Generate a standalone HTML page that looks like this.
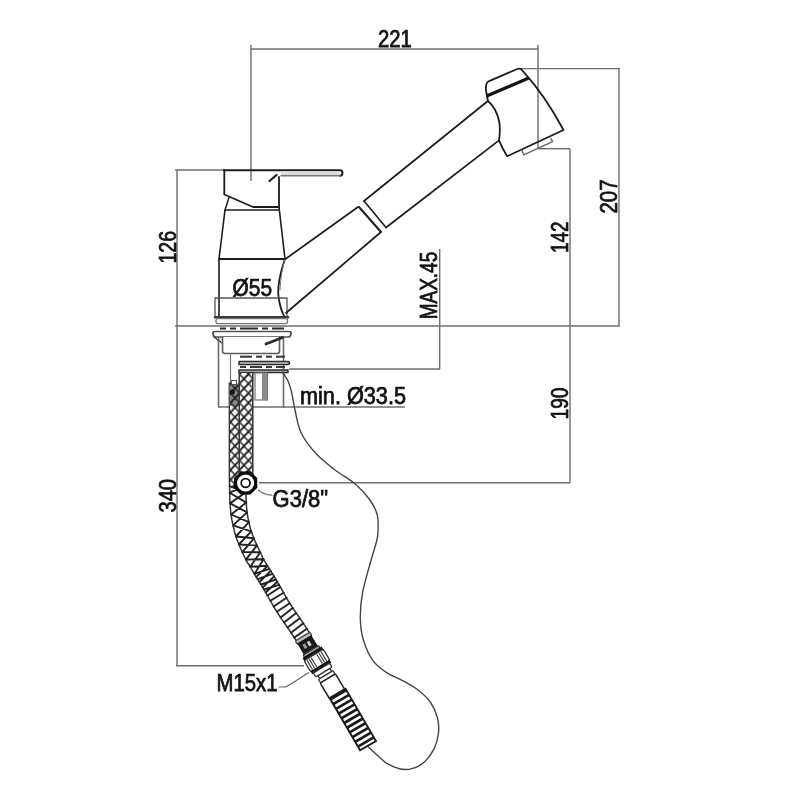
<!DOCTYPE html>
<html><head><meta charset="utf-8"><title>Faucet technical drawing</title>
<style>
html,body{margin:0;padding:0;background:#fff;}
body{width:800px;height:800px;overflow:hidden;}
svg{display:block;filter:blur(0.7px);}
text{font-family:"Liberation Sans",sans-serif;fill:#111;stroke:#111;stroke-width:0.75px;}
</style></head><body>
<svg width="800" height="800" viewBox="0 0 800 800">
<defs><pattern id="xh" x="230.5" y="374" width="9" height="9.6" patternUnits="userSpaceOnUse"><path d="M-1,10.67 L10,-1.07" stroke="#1c1c1c" stroke-width="1.9" fill="none"/><path d="M-1,-1.07 L10,10.67" stroke="#1c1c1c" stroke-width="1.45" fill="none"/></pattern></defs>
<rect width="800" height="800" fill="#fff"/>
<line x1="251" y1="45" x2="251" y2="181" stroke="#6e6e6e" stroke-width="1.4" />
<line x1="251" y1="49" x2="538" y2="49" stroke="#6e6e6e" stroke-width="1.4" />
<line x1="538" y1="45" x2="538" y2="148.5" stroke="#6e6e6e" stroke-width="1.4" />
<line x1="519" y1="68.6" x2="620" y2="68.6" stroke="#6e6e6e" stroke-width="1.4" />
<line x1="619" y1="68.6" x2="619" y2="326" stroke="#6e6e6e" stroke-width="1.4" />
<line x1="538" y1="148.7" x2="570" y2="148.7" stroke="#6e6e6e" stroke-width="1.4" />
<line x1="570" y1="148.7" x2="570" y2="483" stroke="#6e6e6e" stroke-width="1.4" />
<line x1="259" y1="482.7" x2="570" y2="482.7" stroke="#6e6e6e" stroke-width="1.4" />
<line x1="175" y1="326" x2="620" y2="326" stroke="#6e6e6e" stroke-width="1.4" />
<line x1="177" y1="170" x2="177" y2="666" stroke="#6e6e6e" stroke-width="1.4" />
<line x1="175" y1="170" x2="224" y2="170" stroke="#6e6e6e" stroke-width="1.4" />
<line x1="176" y1="665.8" x2="304" y2="665.8" stroke="#6e6e6e" stroke-width="1.4" />
<line x1="439.7" y1="249" x2="439.7" y2="369" stroke="#6e6e6e" stroke-width="1.4" />
<line x1="289" y1="369" x2="440" y2="369" stroke="#6e6e6e" stroke-width="1.4" />
<line x1="218" y1="407" x2="405" y2="407" stroke="#6e6e6e" stroke-width="1.4" />
<text x="378.0" y="46.5" font-size="23" text-anchor="start" font-weight="normal" textLength="33.8" lengthAdjust="spacingAndGlyphs">221</text>
<text x="617.4" y="213.5" font-size="23" text-anchor="start" font-weight="normal" textLength="34.0" lengthAdjust="spacingAndGlyphs" transform="rotate(-90 617.4 213.5)">207</text>
<text x="568.4" y="253" font-size="23" text-anchor="start" font-weight="normal" textLength="31.5" lengthAdjust="spacingAndGlyphs" transform="rotate(-90 568.4 253)">142</text>
<text x="568.4" y="419.5" font-size="23" text-anchor="start" font-weight="normal" textLength="32" lengthAdjust="spacingAndGlyphs" transform="rotate(-90 568.4 419.5)">190</text>
<text x="175.8" y="263.5" font-size="23" text-anchor="start" font-weight="normal" textLength="32.5" lengthAdjust="spacingAndGlyphs" transform="rotate(-90 175.8 263.5)">126</text>
<text x="175.8" y="512.5" font-size="23" text-anchor="start" font-weight="normal" textLength="33.5" lengthAdjust="spacingAndGlyphs" transform="rotate(-90 175.8 512.5)">340</text>
<text x="437.4" y="319.3" font-size="23" text-anchor="start" font-weight="normal" textLength="67.5" lengthAdjust="spacingAndGlyphs" transform="rotate(-90 437.4 319.3)">MAX.45</text>
<text x="232.6" y="295.8" font-size="23" text-anchor="start" font-weight="normal" textLength="39.5" lengthAdjust="spacingAndGlyphs">&#216;55</text>
<text x="300" y="404.4" font-size="23" text-anchor="start" font-weight="normal" textLength="106" lengthAdjust="spacingAndGlyphs">min. &#216;33.5</text>
<text x="272.6" y="507.3" font-size="23" text-anchor="start" font-weight="normal" textLength="55.5" lengthAdjust="spacingAndGlyphs">G3/8"</text>
<text x="216.5" y="691.2" font-size="23" text-anchor="start" font-weight="normal" textLength="61" lengthAdjust="spacingAndGlyphs">M15x1</text>
<path d="M224,170.3 L340,170.3 Q342.5,170.5 342.5,173 Q342.5,175.8 340,175.8" stroke="#1c1c1c" stroke-width="2.0" fill="none" stroke-linejoin="round" stroke-linecap="round" />
<path d="M340,175.8 L281,175.8" stroke="#777" stroke-width="1.5" fill="none" stroke-linejoin="round" stroke-linecap="round" />
<rect x="281" y="171.5" width="59" height="3.5" fill="#ddd"/>
<path d="M269.5,181 L276.5,175" stroke="#1c1c1c" stroke-width="2.2" fill="none" stroke-linejoin="round" stroke-linecap="round" />
<path d="M224.3,170 L224.3,194.5 L253,207 L279,207 L279,177" stroke="#1c1c1c" stroke-width="1.8" fill="none" stroke-linejoin="round" stroke-linecap="round" />
<path d="M229,197.5 L225,210 L279,210" stroke="#1c1c1c" stroke-width="1.5" fill="none" stroke-linejoin="round" stroke-linecap="round" />
<path d="M225,210 L219,259 M279,207 L285,259" stroke="#1c1c1c" stroke-width="1.6" fill="none" stroke-linejoin="round" stroke-linecap="round" />
<path d="M219,259 L285,259" stroke="#1c1c1c" stroke-width="1.8" fill="none" stroke-linejoin="round" stroke-linecap="round" />
<path d="M219,259 L219,316" stroke="#1c1c1c" stroke-width="1.6" fill="none" stroke-linejoin="round" stroke-linecap="round" />
<path d="M285,259 Q276,285 279,300 Q281,312 286,319" stroke="#1c1c1c" stroke-width="1.8" fill="none" stroke-linejoin="round" stroke-linecap="round" />
<path d="M285,259 Q281,272 280,290" stroke="#777" stroke-width="1.0" fill="none" stroke-linejoin="round" stroke-linecap="round" />
<path d="M215,298 L287,298 L287,317 M215,298 L215,317" stroke="#555" stroke-width="1.3" fill="none" stroke-linejoin="round" stroke-linecap="round" />
<path d="M215,317.3 L288,317.3" stroke="#3a3a3a" stroke-width="2.4" fill="none" stroke-linejoin="round" stroke-linecap="round" />
<rect x="216" y="318.6" width="71.5" height="5" rx="2" fill="#fff" stroke="#777" stroke-width="1.4"/>
<path d="M285.5,259 L358,207 M286,313 L381,232" stroke="#1c1c1c" stroke-width="1.7" fill="none" stroke-linejoin="round" stroke-linecap="round" />
<path d="M359,207 L381,232" stroke="#1c1c1c" stroke-width="2.0" fill="none" stroke-linejoin="round" stroke-linecap="round" />
<path d="M364,201 L386,227.5" stroke="#1c1c1c" stroke-width="1.6" fill="none" stroke-linejoin="round" stroke-linecap="round" />
<path d="M364,201 L487.9,101 M386,227.5 L499,140.3" stroke="#1c1c1c" stroke-width="1.7" fill="none" stroke-linejoin="round" stroke-linecap="round" />
<path d="M488.6,81.3 L517.3,69 Q520,68 521.8,69.8 Q545,95 563.5,130 L507.2,156.2 Q502.5,149 499,140.3 Q500.5,131 499.3,122 Q496.5,108 487.9,101 L485.9,90 Q485.5,83 488.6,81.3 Z" stroke="#1c1c1c" stroke-width="1.8" fill="none" stroke-linejoin="round" stroke-linecap="round" />
<path d="M487.9,95.6 L527.6,78.5" stroke="#111" stroke-width="3.3" fill="none" stroke-linejoin="round" stroke-linecap="round" />
<path d="M521.6,150 L523.8,154.8 L552.5,141.6 L551,138.5" stroke="#666" stroke-width="1.4" fill="none" stroke-linejoin="round" stroke-linecap="round" />
<path d="M218.5,338 L218.5,407 M283.5,338 L283.5,407" stroke="#6a6a6a" stroke-width="1.6" fill="none" stroke-linejoin="round" stroke-linecap="round" />
<line x1="220" y1="328.5" x2="226" y2="328.5" stroke="#2a2a2a" stroke-width="2.0" />
<line x1="230" y1="328.5" x2="236" y2="328.5" stroke="#2a2a2a" stroke-width="2.0" />
<line x1="240" y1="328.5" x2="258" y2="328.5" stroke="#2a2a2a" stroke-width="2.0" />
<line x1="262" y1="328.5" x2="268" y2="328.5" stroke="#2a2a2a" stroke-width="2.0" />
<line x1="272" y1="328.5" x2="284" y2="328.5" stroke="#2a2a2a" stroke-width="2.0" />
<path d="M215,331.5 L289,331.5 Q291.5,331.5 291,334 Q290.5,337 288,337 L216,337 Q213.5,337 213,334 Q212.5,331.5 215,331.5 Z" stroke="#505050" stroke-width="1.7" fill="#fff" stroke-linejoin="round" stroke-linecap="round" />
<path d="M214,337 L222,343" stroke="#444" stroke-width="1.5" fill="none" stroke-linejoin="round" stroke-linecap="round" />
<path d="M222.5,337 L222.5,351 Q222.5,353.5 225,353.5 L277,353.5 Q279.5,353.5 279.5,351 L279.5,337" stroke="#5a5a5a" stroke-width="1.6" fill="#fff" stroke-linejoin="round" stroke-linecap="round" />
<path d="M266,344 L282.5,337.5" stroke="#2a2a2a" stroke-width="2.8" fill="none" stroke-linejoin="round" stroke-linecap="round" />
<line x1="230.5" y1="354" x2="230.5" y2="384" stroke="#777" stroke-width="1.2" />
<line x1="240" y1="356.7" x2="252" y2="356.7" stroke="#333" stroke-width="2.0" />
<line x1="256" y1="356.7" x2="262" y2="356.7" stroke="#333" stroke-width="2.0" />
<line x1="266" y1="356.7" x2="272" y2="356.7" stroke="#333" stroke-width="2.0" />
<line x1="276" y1="356.7" x2="285" y2="356.7" stroke="#333" stroke-width="2.0" />
<path d="M239,361.5 L287,361.5 Q289.5,361.5 289.5,363 Q289.5,364.5 287,364.5 L239,364.5 Z" stroke="#2a2a2a" stroke-width="1.5" fill="#ccc" stroke-linejoin="round" stroke-linecap="round" />
<line x1="240" y1="367" x2="246" y2="367" stroke="#333" stroke-width="1.9" />
<line x1="250" y1="367" x2="262" y2="367" stroke="#333" stroke-width="1.9" />
<line x1="266" y1="367" x2="272" y2="367" stroke="#333" stroke-width="1.9" />
<line x1="276" y1="367" x2="285" y2="367" stroke="#333" stroke-width="1.9" />
<path d="M239,370 L288,370 L288,372.5 L239,372.5 Z" stroke="#2a2a2a" stroke-width="1.5" fill="#ccc" stroke-linejoin="round" stroke-linecap="round" />
<rect x="255" y="373" width="12.5" height="27" fill="#fff" stroke="#777" stroke-width="1.2"/>
<rect x="262" y="373" width="5" height="27" fill="#8c8c8c"/>
<path d="M282.5,372.0 C283.4,373.5 286.5,377.7 288.0,381.0 C289.5,384.3 290.3,387.2 291.5,392.0 C292.7,396.8 293.4,403.2 295.0,410.0 C296.6,416.8 297.7,425.4 301.0,432.5 C304.3,439.6 309.3,446.2 315.0,452.5 C320.7,458.8 328.3,464.8 335.0,470.0 C341.7,475.2 349.2,478.8 355.0,483.8 C360.8,488.8 366.3,494.8 370.0,500.0 C373.7,505.2 376.0,510.0 377.3,515.0 C378.6,520.0 378.1,525.8 378.0,530.0 C377.9,534.2 378.3,534.2 376.9,540.0 C375.5,545.8 372.1,556.2 369.7,565.0 C367.3,573.8 364.1,584.2 362.5,593.0 C360.9,601.8 360.2,610.2 360.3,618.0 C360.4,625.8 361.3,633.0 363.4,640.0 C365.5,647.0 368.9,654.8 372.8,660.3 C376.7,665.8 381.9,669.4 386.9,672.8 C391.8,676.2 397.3,677.7 402.5,680.6 C407.7,683.5 413.3,686.4 418.0,690.0 C422.7,693.6 427.4,697.8 430.6,702.5 C433.9,707.2 436.2,712.8 437.5,718.0 C438.8,723.2 439.0,728.5 438.4,733.8 C437.8,739.0 436.1,744.7 433.8,749.4 C431.4,754.1 428.0,758.7 424.4,761.9 C420.8,765.1 416.1,767.5 411.9,768.6 C407.7,769.8 403.6,769.7 399.4,768.8 C395.2,767.9 390.6,765.7 386.9,763.4 C383.2,761.1 380.1,757.7 377.0,755.0 C373.9,752.3 369.9,748.3 368.5,747.0" stroke="#444" stroke-width="1.4" fill="none" stroke-linejoin="round" stroke-linecap="round" />
<path d="M245.6,383.0 L245.6,383.5 L245.6,384.0 L245.6,384.5 L245.6,385.0 L245.6,385.5 L245.6,386.0 L245.6,386.5 L245.6,387.0 L245.6,387.5 L245.6,388.0 L245.6,388.5 L245.6,389.0 L245.6,389.5 L245.6,390.0 L245.6,390.5 L245.6,391.0 L245.6,391.5 L245.6,392.0 L245.6,392.5 L245.6,393.0 L245.6,393.5 L245.6,394.0 L245.6,394.5 L245.6,395.0 L245.6,395.5 L245.6,396.0 L245.6,396.5 L245.6,397.0 L245.6,397.5 L245.6,398.0 L245.6,398.5 L245.6,399.0 L245.6,399.5 L245.6,400.0 L245.6,400.5 L245.6,401.0 L245.6,401.5 L245.6,402.0 L245.6,402.5 L245.6,403.0 L245.6,403.5 L245.6,404.0 L245.6,404.5 L245.6,405.0 L245.6,405.5 L245.6,406.0 L245.6,406.5 L245.6,407.0 L245.6,407.5 L245.6,408.0 L245.6,408.5 L245.6,409.0 L245.6,409.5 L245.6,410.0 L245.6,410.5 L245.6,411.0 L245.6,411.5 L245.6,412.0 L245.6,412.5 L245.6,413.0 L245.6,413.5 L245.6,414.0 L245.6,414.5 L245.6,415.0 L245.6,415.5 L245.6,416.0 L245.6,416.5 L245.6,417.0 L245.6,417.5 L245.6,418.0 L245.6,418.5 L245.6,419.0 L245.6,419.5 L245.6,420.0 L245.6,420.5 L245.6,421.0 L245.6,421.5 L245.6,422.0 L245.6,422.5 L245.6,423.0 L245.6,423.5 L245.6,424.0 L245.6,424.5 L245.6,425.0 L245.6,425.5 L245.6,426.0 L245.6,426.5 L245.6,427.0 L245.6,427.5 L245.6,428.0 L245.6,428.5 L245.6,429.0 L245.6,429.5 L245.6,430.0 L245.6,430.5 L245.6,431.0 L245.6,431.5 L245.6,432.0 L245.6,432.5 L245.6,433.0 L245.6,433.5 L245.6,434.0 L245.6,434.5 L245.6,435.0 L245.6,435.5 L245.6,436.0 L245.6,436.5 L245.6,437.0 L245.6,437.5 L245.6,438.0 L245.6,438.5 L245.6,439.0 L245.6,439.5 L245.6,440.0 L245.6,440.5 L245.6,441.0 L245.6,441.5 L245.6,442.0 L245.6,442.5 L245.6,443.0 L245.6,443.5 L245.6,444.0 L245.6,444.5 L245.6,445.0 L245.6,445.5 L245.6,446.0 L245.6,446.5 L245.6,447.0 L245.6,447.5 L245.6,448.0 L245.6,448.5 L245.6,449.0 L245.6,449.5 L245.6,450.0 L245.6,450.5 L245.6,451.0 L245.6,451.5 L245.6,452.0 L245.6,452.5 L245.6,453.0 L245.6,453.5 L245.6,454.0 L245.6,454.5 L245.6,455.0 L245.6,455.5 L245.6,456.0 L245.6,456.5 L245.6,457.0 L245.6,457.5 L245.6,458.0 L245.6,458.5 L245.6,459.0 L245.6,459.5 L245.6,460.0 L245.6,460.5 L245.6,461.0 L245.6,461.5 L245.6,462.0 L245.6,462.5 L245.6,463.0 L245.6,463.5 L245.6,464.0 L245.6,464.5 L245.6,465.0 L245.6,465.5 L245.6,466.0 L245.6,466.5 L245.6,467.0 L245.6,467.5 L245.6,468.0 L245.6,468.5 L245.6,469.0 L245.6,469.5 L245.6,470.0 L245.6,470.5 L245.6,471.0 L245.6,471.5 L245.6,472.0 L245.6,472.5 L245.6,473.0 L245.6,473.5 L245.6,474.0 L245.6,474.5 L245.6,475.0 L245.6,475.4 L245.6,475.9 L245.6,476.4 L245.6,476.9 L245.6,477.4 L245.6,477.9 L245.6,478.4 L245.7,478.9 L245.7,479.4 L245.7,479.9 L245.7,480.4 L245.7,480.9 L245.7,481.4 L245.7,481.9 L245.7,482.4 L245.7,482.9 L245.7,483.4 L245.7,483.9 L245.7,484.4 L245.8,484.9 L245.8,485.4 L245.8,485.9 L245.8,486.4 L245.8,486.8 L245.8,487.3 L245.8,487.8 L245.8,488.3 L245.8,488.8 L245.8,489.3 L245.8,489.8 L245.9,490.3 L245.9,490.8 L245.9,491.3 L245.9,491.8 L245.9,492.3 L245.9,492.8 L245.9,493.3 L245.9,493.8 L245.9,494.3 L246.0,494.8 L246.0,495.3 L246.0,495.8 L246.0,496.2 L246.0,496.7 L246.0,497.2 L246.1,497.7 L246.1,498.2 L246.1,498.7 L246.1,499.2 L246.1,499.7 L246.1,500.1 L246.2,500.6 L246.2,501.1 L246.2,501.6 L246.2,502.1 L246.3,502.6 L246.3,503.0 L246.3,503.5 L246.3,504.0 L246.4,504.5 L246.4,504.9 L246.4,505.4 L246.5,505.9 L246.5,506.4 L246.6,506.8 L246.6,507.3 L246.6,507.8 L246.7,508.3 L246.7,508.8 L246.8,509.2 L246.8,509.7 L246.9,510.1 L246.9,510.6 L246.9,511.0 L247.0,511.5 L247.1,511.9 L247.1,512.4 L247.2,512.8 L247.2,513.3 L247.3,513.7 L247.4,514.2 L247.4,514.6 L247.5,515.1 L247.6,515.5 L247.7,516.0 L247.8,516.4 L247.8,516.9 L247.9,517.4 L248.0,517.8 L248.1,518.3 L248.2,518.8 L248.3,519.3 L248.4,519.7 L248.5,520.2 L248.6,520.7 L248.7,521.2 L248.8,521.7 L248.9,522.1 L249.0,522.6 L249.1,523.1 L249.2,523.5 L249.3,524.0 L249.4,524.4 L249.5,524.9 L249.6,525.3 L249.7,525.8 L249.8,526.2 L249.9,526.6 L250.0,527.1 L250.2,527.5 L250.3,528.0 L250.4,528.4 L250.5,528.8 L250.6,529.2 L250.8,529.7 L250.9,530.1 L251.0,530.5 L251.2,531.0 L251.3,531.4 L251.5,531.8 L251.6,532.3 L251.7,532.7 L251.9,533.1 L252.1,533.5 L252.2,533.9 L252.4,534.4 L252.5,534.8 L252.7,535.3 L252.9,535.7 L253.0,536.1 L253.2,536.6 L253.4,537.0 L253.6,537.4 L253.8,537.9 L253.9,538.3 L254.1,538.8 L254.3,539.2 L254.5,539.6 L254.7,540.1 L254.9,540.5 L255.0,541.0 L255.2,541.4 L255.4,541.9 L255.6,542.3 L255.8,542.7 L256.0,543.2 L256.2,543.6 L256.4,544.0 L256.6,544.5 L256.8,544.9 L257.0,545.4 L257.2,545.8 L257.4,546.2 L257.6,546.7 L257.8,547.1 L258.0,547.6 L258.2,548.0 L258.4,548.4 L258.6,548.9 L258.8,549.3 L259.1,549.7 L259.3,550.1 L259.5,550.6 L259.7,551.0 L259.9,551.5 L260.1,551.9 L260.3,552.3 L260.6,552.7 L260.8,553.2 L261.0,553.6 L261.2,554.0 L261.4,554.5 L261.6,554.9 L261.9,555.3 L262.1,555.7 L262.0,556.3 L262.2,556.7 L262.4,557.1 L262.6,557.6 L262.9,558.0 L263.1,558.4 L263.3,558.8 L263.6,559.2 L263.8,559.6 L264.0,560.0 L264.3,560.4 L264.5,560.9 L264.8,561.3 L265.0,561.7 L265.2,562.1 L265.5,562.5 L265.7,562.9 L266.0,563.3 L266.2,563.8 L266.5,564.2 L266.7,564.6 L267.0,565.0 L267.3,565.4 L267.5,565.8 L267.8,566.3 L268.0,566.7 L268.3,567.1 L268.5,567.5 L268.8,567.9 L269.1,568.4 L269.3,568.8 L269.6,569.2 L269.9,569.6 L270.1,570.0 L270.4,570.5 L270.7,570.9 L270.9,571.3 L271.2,571.7 L271.5,572.2 L271.7,572.6 L272.0,573.0 L272.3,573.4 L272.5,573.9 L272.8,574.3 L273.1,574.7 L273.3,575.2 L273.6,575.6 L273.9,576.0 L274.1,576.4 L274.4,576.9 L274.7,577.3 L274.9,577.8 L275.2,578.2 L275.5,578.6 L275.7,579.1 L276.0,579.5 L276.3,580.0 L276.5,580.4 L276.8,580.9 L277.0,581.3 L277.3,581.7 L277.6,582.2 L277.8,582.6 L278.1,583.1 L278.3,583.5 L278.6,584.0 L278.8,584.4 L279.1,584.8 L279.4,585.3 L279.6,585.7 L279.9,586.2 L280.1,586.6 L280.4,587.0 L280.6,587.5 L280.9,587.9 L281.1,588.4 L281.3,588.8 L281.6,589.2 L281.8,589.7 L282.1,590.1 L282.3,590.5 L282.6,591.0 L282.8,591.4 L283.1,591.9 L283.3,592.3 L283.6,592.7 L283.8,593.1 L284.0,593.6 L284.3,594.0 L284.5,594.4 L284.8,594.9 L285.0,595.3 L285.3,595.7 L285.5,596.1 L285.7,596.6 L286.0,597.0 L286.2,597.4 L286.5,597.8 L286.7,598.3 L287.0,598.7 L287.2,599.1 L287.5,599.5 L287.7,599.9 L287.9,600.3 L288.2,600.8 L288.4,601.2 L288.7,601.6 L288.9,602.0 L289.2,602.4 L289.5,602.8 L289.7,603.2 L290.0,603.6 L290.2,604.0 L290.5,604.4 L290.7,604.8 L291.0,605.2 L291.3,605.6 L291.5,606.0 L291.8,606.4 L292.0,606.8 L292.3,607.2 L292.6,607.6 L292.8,608.0 L293.1,608.5 L293.4,608.9 L293.7,609.3 L293.9,609.7 L294.2,610.1 L294.5,610.5 L294.8,610.9 L295.0,611.3 L295.3,611.7 L295.6,612.1 L295.9,612.5 L296.2,612.9 L296.4,613.3 L296.7,613.7 L297.0,614.1 L297.3,614.5 L297.6,614.9 L297.8,615.4 L298.1,615.8 L298.4,616.2 L298.7,616.6 L299.0,617.0 L299.3,617.4 L299.6,617.8 L299.8,618.2 L300.1,618.7 L300.4,619.1 L300.7,619.5 L301.0,619.9 L301.3,620.3 L301.6,620.7 L301.9,621.2 L302.1,621.6 L302.4,622.0 L302.7,622.5 L303.0,622.9 L303.3,623.3 L303.6,623.7 L303.9,624.2 L304.1,624.6 L304.4,625.0 L304.7,625.4 L305.0,625.9 L305.3,626.3 L305.5,626.7 L305.8,627.1 L306.1,627.6 L306.4,628.0 L306.6,628.4 L306.9,628.8 L307.2,629.3 L307.5,629.7 L307.7,630.1 L308.0,630.6 L308.3,631.0 L308.6,631.4 L308.8,631.8 L309.1,632.2 L309.3,632.6 L296.4,641.0 L296.1,640.5 L295.8,640.1 L295.6,639.7 L295.3,639.3 L295.0,638.9 L294.8,638.4 L294.5,638.0 L294.2,637.6 L294.0,637.2 L293.7,636.8 L293.4,636.4 L293.2,636.0 L292.9,635.5 L292.6,635.1 L292.4,634.7 L292.1,634.3 L291.8,633.9 L291.6,633.5 L291.3,633.1 L291.0,632.7 L290.7,632.2 L290.5,631.8 L290.2,631.4 L289.9,631.0 L289.7,630.6 L289.4,630.2 L289.1,629.8 L288.9,629.4 L288.6,629.0 L288.3,628.6 L288.0,628.2 L287.7,627.8 L287.5,627.4 L287.2,627.0 L286.9,626.6 L286.6,626.2 L286.3,625.8 L286.0,625.4 L285.8,625.0 L285.5,624.5 L285.2,624.1 L284.9,623.7 L284.6,623.3 L284.3,622.9 L284.0,622.5 L283.8,622.1 L283.5,621.6 L283.2,621.2 L282.9,620.8 L282.6,620.4 L282.3,620.0 L282.0,619.6 L281.7,619.1 L281.5,618.7 L281.2,618.3 L280.9,617.9 L280.6,617.4 L280.3,617.0 L280.0,616.6 L279.7,616.2 L279.5,615.7 L279.2,615.3 L278.9,614.9 L278.6,614.4 L278.3,614.0 L278.1,613.6 L277.8,613.1 L277.5,612.7 L277.2,612.2 L276.9,611.8 L276.7,611.4 L276.4,610.9 L276.1,610.5 L275.8,610.0 L275.6,609.6 L275.3,609.1 L275.0,608.7 L274.7,608.3 L274.5,607.8 L274.2,607.4 L274.0,606.9 L273.7,606.5 L273.4,606.0 L273.2,605.6 L272.9,605.1 L272.7,604.7 L272.4,604.2 L272.1,603.8 L271.9,603.4 L271.6,602.9 L271.4,602.5 L271.1,602.0 L270.9,601.6 L270.6,601.2 L270.4,600.7 L270.1,600.3 L269.9,599.8 L269.6,599.4 L269.4,599.0 L269.2,598.5 L268.9,598.1 L268.7,597.7 L268.4,597.2 L268.2,596.8 L267.9,596.4 L267.7,595.9 L267.4,595.5 L267.2,595.1 L267.0,594.6 L266.7,594.2 L266.5,593.8 L266.2,593.3 L266.0,592.9 L265.7,592.5 L265.5,592.1 L265.2,591.6 L265.0,591.2 L264.8,590.8 L264.5,590.4 L264.3,589.9 L264.0,589.5 L263.8,589.1 L263.5,588.7 L263.3,588.3 L263.0,587.8 L262.8,587.4 L262.5,587.0 L262.3,586.6 L262.0,586.2 L261.8,585.8 L261.5,585.4 L261.3,585.0 L261.0,584.5 L260.8,584.1 L260.5,583.7 L260.2,583.3 L260.0,582.9 L259.7,582.4 L259.5,582.0 L259.2,581.6 L258.9,581.2 L258.7,580.8 L258.4,580.3 L258.1,579.9 L257.9,579.5 L257.6,579.1 L257.3,578.6 L257.1,578.2 L256.8,577.8 L256.5,577.4 L256.3,576.9 L256.0,576.5 L255.7,576.1 L255.5,575.7 L255.2,575.2 L254.9,574.8 L254.7,574.4 L254.4,573.9 L254.1,573.5 L253.9,573.1 L253.6,572.6 L253.3,572.2 L253.1,571.7 L252.8,571.3 L252.5,570.9 L252.3,570.4 L252.0,570.0 L251.7,569.5 L251.5,569.1 L251.2,568.6 L251.0,568.2 L250.7,567.7 L250.4,567.3 L250.2,566.8 L249.9,566.4 L249.6,565.9 L249.4,565.5 L249.1,565.0 L248.9,564.5 L248.6,564.0 L248.4,563.6 L247.8,563.3 L247.5,562.8 L247.3,562.4 L247.1,561.9 L246.8,561.5 L246.6,561.0 L246.3,560.5 L246.1,560.1 L245.9,559.6 L245.6,559.1 L245.4,558.7 L245.2,558.2 L244.9,557.7 L244.7,557.3 L244.5,556.8 L244.3,556.4 L244.0,555.9 L243.8,555.4 L243.6,555.0 L243.4,554.5 L243.2,554.0 L242.9,553.5 L242.7,553.1 L242.5,552.6 L242.3,552.1 L242.1,551.7 L241.8,551.2 L241.6,550.7 L241.4,550.2 L241.2,549.8 L241.0,549.3 L240.8,548.8 L240.6,548.3 L240.4,547.9 L240.2,547.4 L240.0,546.9 L239.7,546.4 L239.6,546.0 L239.3,545.5 L239.1,545.0 L238.9,544.5 L238.7,544.0 L238.6,543.5 L238.4,543.0 L238.2,542.5 L238.0,542.1 L237.8,541.6 L237.6,541.1 L237.4,540.6 L237.2,540.1 L237.0,539.6 L236.8,539.0 L236.6,538.6 L236.5,538.0 L236.3,537.5 L236.1,537.0 L235.9,536.5 L235.8,535.9 L235.6,535.4 L235.4,534.9 L235.3,534.4 L235.1,533.9 L234.9,533.3 L234.8,532.8 L234.6,532.2 L234.5,531.7 L234.4,531.2 L234.2,530.7 L234.1,530.1 L234.0,529.6 L233.8,529.1 L233.7,528.5 L233.6,528.0 L233.5,527.5 L233.4,527.0 L233.2,526.4 L233.1,526.0 L233.0,525.4 L232.9,524.9 L232.8,524.4 L232.7,523.9 L232.6,523.4 L232.5,522.9 L232.4,522.4 L232.3,521.9 L232.2,521.4 L232.1,520.9 L232.0,520.4 L231.9,519.9 L231.8,519.3 L231.7,518.8 L231.6,518.3 L231.5,517.8 L231.5,517.2 L231.4,516.7 L231.3,516.1 L231.2,515.6 L231.1,515.1 L231.1,514.5 L231.0,514.0 L230.9,513.4 L230.9,512.9 L230.8,512.3 L230.7,511.8 L230.7,511.3 L230.6,510.7 L230.6,510.2 L230.5,509.7 L230.5,509.1 L230.4,508.6 L230.4,508.1 L230.4,507.6 L230.3,507.1 L230.3,506.6 L230.3,506.0 L230.2,505.5 L230.2,505.0 L230.2,504.5 L230.1,503.9 L230.1,503.4 L230.1,502.9 L230.0,502.4 L230.0,501.9 L230.0,501.4 L230.0,500.8 L229.9,500.3 L229.9,499.8 L229.9,499.3 L229.9,498.8 L229.9,498.3 L229.8,497.8 L229.8,497.3 L229.8,496.8 L229.8,496.2 L229.8,495.7 L229.8,495.2 L229.8,494.7 L229.7,494.2 L229.7,493.7 L229.7,493.2 L229.7,492.7 L229.7,492.2 L229.7,491.7 L229.7,491.2 L229.7,490.7 L229.6,490.2 L229.6,489.7 L229.6,489.2 L229.6,488.7 L229.6,488.2 L229.6,487.7 L229.6,487.1 L229.6,486.6 L229.6,486.1 L229.6,485.6 L229.6,485.1 L229.5,484.6 L229.5,484.1 L229.5,483.6 L229.5,483.1 L229.5,482.6 L229.5,482.1 L229.5,481.6 L229.5,481.1 L229.5,480.6 L229.5,480.1 L229.5,479.6 L229.5,479.1 L229.4,478.6 L229.4,478.1 L229.4,477.6 L229.4,477.1 L229.4,476.6 L229.4,476.1 L229.4,475.6 L229.4,475.0 L229.4,474.5 L229.4,474.0 L229.4,473.5 L229.4,473.0 L229.4,472.5 L229.4,472.0 L229.4,471.5 L229.4,471.0 L229.4,470.5 L229.4,470.0 L229.4,469.5 L229.4,469.0 L229.4,468.5 L229.4,468.0 L229.4,467.5 L229.4,467.0 L229.4,466.5 L229.4,466.0 L229.4,465.5 L229.4,465.0 L229.4,464.5 L229.4,464.0 L229.4,463.5 L229.4,463.0 L229.4,462.5 L229.4,462.0 L229.4,461.5 L229.4,461.0 L229.4,460.5 L229.4,460.0 L229.4,459.5 L229.4,459.0 L229.4,458.5 L229.4,458.0 L229.4,457.5 L229.4,457.0 L229.4,456.5 L229.4,456.0 L229.4,455.5 L229.4,455.0 L229.4,454.5 L229.4,454.0 L229.4,453.5 L229.4,453.0 L229.4,452.5 L229.4,452.0 L229.4,451.5 L229.4,451.0 L229.4,450.5 L229.4,450.0 L229.4,449.5 L229.4,449.0 L229.4,448.5 L229.4,448.0 L229.4,447.5 L229.4,447.0 L229.4,446.5 L229.4,446.0 L229.4,445.5 L229.4,445.0 L229.4,444.5 L229.4,444.0 L229.4,443.5 L229.4,443.0 L229.4,442.5 L229.4,442.0 L229.4,441.5 L229.4,441.0 L229.4,440.5 L229.4,440.0 L229.4,439.5 L229.4,439.0 L229.4,438.5 L229.4,438.0 L229.4,437.5 L229.4,437.0 L229.4,436.5 L229.4,436.0 L229.4,435.5 L229.4,435.0 L229.4,434.5 L229.4,434.0 L229.4,433.5 L229.4,433.0 L229.4,432.5 L229.4,432.0 L229.4,431.5 L229.4,431.0 L229.4,430.5 L229.4,430.0 L229.4,429.5 L229.4,429.0 L229.4,428.5 L229.4,428.0 L229.4,427.5 L229.4,427.0 L229.4,426.5 L229.4,426.0 L229.4,425.5 L229.4,425.0 L229.4,424.5 L229.4,424.0 L229.4,423.5 L229.4,423.0 L229.4,422.5 L229.4,422.0 L229.4,421.5 L229.4,421.0 L229.4,420.5 L229.4,420.0 L229.4,419.5 L229.4,419.0 L229.4,418.5 L229.4,418.0 L229.4,417.5 L229.4,417.0 L229.4,416.5 L229.4,416.0 L229.4,415.5 L229.4,415.0 L229.4,414.5 L229.4,414.0 L229.4,413.5 L229.4,413.0 L229.4,412.5 L229.4,412.0 L229.4,411.5 L229.4,411.0 L229.4,410.5 L229.4,410.0 L229.4,409.5 L229.4,409.0 L229.4,408.5 L229.4,408.0 L229.4,407.5 L229.4,407.0 L229.4,406.5 L229.4,406.0 L229.4,405.5 L229.4,405.0 L229.4,404.5 L229.4,404.0 L229.4,403.5 L229.4,403.0 L229.4,402.5 L229.4,402.0 L229.4,401.5 L229.4,401.0 L229.4,400.5 L229.4,400.0 L229.4,399.5 L229.4,399.0 L229.4,398.5 L229.4,398.0 L229.4,397.5 L229.4,397.0 L229.4,396.5 L229.4,396.0 L229.4,395.5 L229.4,395.0 L229.4,394.5 L229.4,394.0 L229.4,393.5 L229.4,393.0 L229.4,392.5 L229.4,392.0 L229.4,391.5 L229.4,391.0 L229.4,390.5 L229.4,390.0 L229.4,389.5 L229.4,389.0 L229.4,388.5 L229.4,388.0 L229.4,387.5 L229.4,387.0 L229.4,386.5 L229.4,386.0 L229.4,385.5 L229.4,385.0 L229.4,384.5 L229.4,384.0 L229.4,383.5 L229.4,383.0 Z" fill="#fff" stroke="none"/>
<path d="M245.6,383.0 L245.6,383.5 L245.6,384.0 L245.6,384.5 L245.6,385.0 L245.6,385.5 L245.6,386.0 L245.6,386.5 L245.6,387.0 L245.6,387.5 L245.6,388.0 L245.6,388.5 L245.6,389.0 L245.6,389.5 L245.6,390.0 L245.6,390.5 L245.6,391.0 L245.6,391.5 L245.6,392.0 L245.6,392.5 L245.6,393.0 L245.6,393.5 L245.6,394.0 L245.6,394.5 L245.6,395.0 L245.6,395.5 L245.6,396.0 L245.6,396.5 L245.6,397.0 L245.6,397.5 L245.6,398.0 L245.6,398.5 L245.6,399.0 L245.6,399.5 L245.6,400.0 L245.6,400.5 L245.6,401.0 L245.6,401.5 L245.6,402.0 L245.6,402.5 L245.6,403.0 L245.6,403.5 L245.6,404.0 L245.6,404.5 L245.6,405.0 L245.6,405.5 L245.6,406.0 L245.6,406.5 L245.6,407.0 L245.6,407.5 L245.6,408.0 L245.6,408.5 L245.6,409.0 L245.6,409.5 L245.6,410.0 L245.6,410.5 L245.6,411.0 L245.6,411.5 L245.6,412.0 L245.6,412.5 L245.6,413.0 L245.6,413.5 L245.6,414.0 L245.6,414.5 L245.6,415.0 L245.6,415.5 L245.6,416.0 L245.6,416.5 L245.6,417.0 L245.6,417.5 L245.6,418.0 L245.6,418.5 L245.6,419.0 L245.6,419.5 L245.6,420.0 L245.6,420.5 L245.6,421.0 L245.6,421.5 L245.6,422.0 L245.6,422.5 L245.6,423.0 L245.6,423.5 L245.6,424.0 L245.6,424.5 L245.6,425.0 L245.6,425.5 L245.6,426.0 L245.6,426.5 L245.6,427.0 L245.6,427.5 L245.6,428.0 L245.6,428.5 L245.6,429.0 L245.6,429.5 L245.6,430.0 L245.6,430.5 L245.6,431.0 L245.6,431.5 L245.6,432.0 L245.6,432.5 L245.6,433.0 L245.6,433.5 L245.6,434.0 L245.6,434.5 L245.6,435.0 L245.6,435.5 L245.6,436.0 L245.6,436.5 L245.6,437.0 L245.6,437.5 L245.6,438.0 L245.6,438.5 L245.6,439.0 L245.6,439.5 L245.6,440.0 L245.6,440.5 L245.6,441.0 L245.6,441.5 L245.6,442.0 L245.6,442.5 L245.6,443.0 L245.6,443.5 L245.6,444.0 L245.6,444.5 L245.6,445.0 L245.6,445.5 L245.6,446.0 L245.6,446.5 L245.6,447.0 L245.6,447.5 L245.6,448.0 L245.6,448.5 L245.6,449.0 L245.6,449.5 L245.6,450.0 L245.6,450.5 L245.6,451.0 L245.6,451.5 L245.6,452.0 L245.6,452.5 L245.6,453.0 L245.6,453.5 L245.6,454.0 L245.6,454.5 L245.6,455.0 L245.6,455.5 L245.6,456.0 L245.6,456.5 L245.6,457.0 L245.6,457.5 L245.6,458.0 L245.6,458.5 L245.6,459.0 L245.6,459.5 L245.6,460.0 L245.6,460.5 L245.6,461.0 L245.6,461.5 L245.6,462.0 L245.6,462.5 L245.6,463.0 L245.6,463.5 L245.6,464.0 L245.6,464.5 L245.6,465.0 L245.6,465.5 L245.6,466.0 L245.6,466.5 L245.6,467.0 L245.6,467.5 L245.6,468.0 L245.6,468.5 L245.6,469.0 L245.6,469.5 L245.6,470.0 L245.6,470.5 L245.6,471.0 L245.6,471.5 L245.6,472.0 L245.6,472.5 L245.6,473.0 L245.6,473.5 L245.6,474.0 L245.6,474.5 L245.6,475.0 L245.6,475.4 L245.6,475.9 L245.6,476.4 L245.6,476.9 L245.6,477.4 L245.6,477.9 L245.6,478.4 L245.7,478.9 L245.7,479.4 L245.7,479.9 L245.7,480.4 L245.7,480.9 L245.7,481.4 L245.7,481.9 L245.7,482.4 L245.7,482.9 L245.7,483.4 L245.7,483.9 L245.7,484.4 L245.8,484.9 L245.8,485.4 L245.8,485.9 L245.8,486.4 L245.8,486.8 L245.8,487.3 L245.8,487.8 L245.8,488.3 L245.8,488.8 L245.8,489.3 L245.8,489.8 L245.9,490.3 L245.9,490.8 L245.9,491.3 L245.9,491.8 L245.9,492.3 L245.9,492.8 L245.9,493.3 L245.9,493.8 L245.9,494.3 L246.0,494.8 L246.0,495.3 L246.0,495.8 L246.0,496.2 L246.0,496.7 L246.0,497.2 L246.1,497.7 L246.1,498.2 L246.1,498.7 L246.1,499.2 L246.1,499.7 L246.1,500.1 L246.2,500.6 L246.2,501.1 L246.2,501.6 L246.2,502.1 L246.3,502.6 L246.3,503.0 L246.3,503.5 L246.3,504.0 L246.4,504.5 L246.4,504.9 L246.4,505.4 L246.5,505.9 L246.5,506.4 L246.6,506.8 L246.6,507.3 L246.6,507.8 L246.7,508.3 L246.7,508.8 L246.8,509.2 L246.8,509.7 L246.9,510.1 L246.9,510.6 L246.9,511.0 L247.0,511.5 L247.1,511.9 L247.1,512.4 L247.2,512.8 L247.2,513.3 L247.3,513.7 L247.4,514.2 L247.4,514.6 L247.5,515.1 L247.6,515.5 L247.7,516.0 L247.8,516.4 L247.8,516.9 L247.9,517.4 L248.0,517.8 L248.1,518.3 L248.2,518.8 L248.3,519.3 L248.4,519.7 L248.5,520.2 L248.6,520.7 L248.7,521.2 L248.8,521.7 L248.9,522.1 L249.0,522.6 L249.1,523.1 L249.2,523.5 L249.3,524.0 L249.4,524.4 L249.5,524.9 L249.6,525.3 L249.7,525.8 L249.8,526.2 L249.9,526.6 L250.0,527.1 L250.2,527.5 L250.3,528.0 L250.4,528.4 L250.5,528.8 L250.6,529.2 L250.8,529.7 L250.9,530.1 L251.0,530.5 L251.2,531.0 L251.3,531.4 L251.5,531.8 L251.6,532.3 L251.7,532.7 L251.9,533.1 L252.1,533.5 L252.2,533.9 L252.4,534.4 L252.5,534.8 L252.7,535.3 L252.9,535.7 L253.0,536.1 L253.2,536.6 L253.4,537.0 L253.6,537.4 L253.8,537.9 L253.9,538.3 L254.1,538.8 L254.3,539.2 L254.5,539.6 L254.7,540.1 L254.9,540.5 L255.0,541.0 L255.2,541.4 L255.4,541.9 L255.6,542.3 L255.8,542.7 L256.0,543.2 L256.2,543.6 L256.4,544.0 L256.6,544.5 L256.8,544.9 L257.0,545.4 L257.2,545.8 L257.4,546.2 L257.6,546.7 L257.8,547.1 L258.0,547.6 L258.2,548.0 L258.4,548.4 L258.6,548.9 L258.8,549.3 L259.1,549.7 L259.3,550.1 L259.5,550.6 L259.7,551.0 L259.9,551.5 L260.1,551.9 L260.3,552.3 L260.6,552.7 L260.8,553.2 L261.0,553.6 L261.2,554.0 L261.4,554.5 L261.6,554.9 L261.9,555.3 L262.1,555.7 L262.0,556.3 L262.2,556.7 L262.4,557.1 L262.6,557.6 L262.9,558.0 L263.1,558.4 L263.3,558.8 L263.6,559.2 L263.8,559.6 L264.0,560.0 L264.3,560.4 L264.5,560.9 L264.8,561.3 L265.0,561.7 L265.2,562.1 L265.5,562.5 L265.7,562.9 L266.0,563.3 L266.2,563.8 L266.5,564.2 L266.7,564.6 L267.0,565.0 L267.3,565.4 L267.5,565.8 L267.8,566.3 L268.0,566.7 L268.3,567.1 L268.5,567.5 L268.8,567.9 L269.1,568.4 L269.3,568.8 L269.6,569.2 L269.9,569.6 L270.1,570.0 L270.4,570.5 L270.7,570.9 L270.9,571.3 L271.2,571.7 L271.5,572.2 L271.7,572.6 L272.0,573.0 L272.3,573.4 L272.5,573.9 L272.8,574.3 L273.1,574.7 L273.3,575.2 L273.6,575.6 L273.9,576.0 L274.1,576.4 L274.4,576.9 L274.7,577.3 L274.9,577.8 L275.2,578.2 L275.5,578.6 L275.7,579.1 L276.0,579.5 L276.3,580.0 L276.5,580.4 L276.8,580.9 L277.0,581.3 L277.3,581.7 L277.6,582.2 L277.8,582.6 L278.1,583.1 L278.3,583.5 L278.6,584.0 L278.8,584.4 L279.1,584.8 L279.4,585.3 L279.6,585.7 L279.9,586.2 L280.1,586.6 L280.4,587.0 L280.6,587.5 L280.9,587.9 L281.1,588.4 L281.3,588.8 L281.6,589.2 L281.8,589.7 L282.1,590.1 L282.3,590.5 L282.6,591.0 L282.8,591.4 L283.1,591.9 L283.3,592.3 L283.6,592.7 L283.8,593.1 L284.0,593.6 L284.3,594.0 L284.5,594.4 L284.8,594.9 L285.0,595.3 L285.3,595.7 L285.5,596.1 L285.7,596.6 L286.0,597.0 L286.2,597.4 L286.5,597.8 L286.7,598.3 L287.0,598.7 L287.2,599.1 L287.5,599.5 L287.7,599.9 L287.9,600.3 L288.2,600.8 L288.4,601.2 L288.7,601.6 L288.9,602.0 L289.2,602.4 L289.5,602.8 L289.7,603.2 L290.0,603.6 L290.2,604.0 L290.5,604.4 L290.7,604.8 L291.0,605.2 L291.3,605.6 L291.5,606.0 L291.8,606.4 L292.0,606.8 L292.3,607.2 L292.6,607.6 L292.8,608.0 L293.1,608.5 L293.4,608.9 L293.7,609.3 L293.9,609.7 L294.2,610.1 L294.5,610.5 L294.8,610.9 L295.0,611.3 L295.3,611.7 L295.6,612.1 L295.9,612.5 L296.2,612.9 L296.4,613.3 L296.7,613.7 L297.0,614.1 L297.3,614.5 L297.6,614.9 L297.8,615.4 L298.1,615.8 L298.4,616.2 L298.7,616.6 L299.0,617.0 L299.3,617.4 L299.6,617.8 L299.8,618.2 L300.1,618.7 L300.4,619.1 L300.7,619.5 L301.0,619.9 L301.3,620.3 L301.6,620.7 L301.9,621.2 L302.1,621.6 L302.4,622.0 L302.7,622.5 L303.0,622.9 L303.3,623.3 L303.6,623.7 L303.9,624.2 L304.1,624.6 L304.4,625.0 L304.7,625.4 L305.0,625.9 L305.3,626.3 L305.5,626.7 L305.8,627.1 L306.1,627.6 L306.4,628.0 L306.6,628.4 L306.9,628.8 L307.2,629.3 L307.5,629.7 L307.7,630.1 L308.0,630.6 L308.3,631.0 L308.6,631.4 L308.8,631.8 L309.1,632.2 L309.3,632.6" stroke="#333" stroke-width="1.5" fill="none" stroke-linejoin="round" stroke-linecap="round" />
<path d="M229.4,383.0 L229.4,383.5 L229.4,384.0 L229.4,384.5 L229.4,385.0 L229.4,385.5 L229.4,386.0 L229.4,386.5 L229.4,387.0 L229.4,387.5 L229.4,388.0 L229.4,388.5 L229.4,389.0 L229.4,389.5 L229.4,390.0 L229.4,390.5 L229.4,391.0 L229.4,391.5 L229.4,392.0 L229.4,392.5 L229.4,393.0 L229.4,393.5 L229.4,394.0 L229.4,394.5 L229.4,395.0 L229.4,395.5 L229.4,396.0 L229.4,396.5 L229.4,397.0 L229.4,397.5 L229.4,398.0 L229.4,398.5 L229.4,399.0 L229.4,399.5 L229.4,400.0 L229.4,400.5 L229.4,401.0 L229.4,401.5 L229.4,402.0 L229.4,402.5 L229.4,403.0 L229.4,403.5 L229.4,404.0 L229.4,404.5 L229.4,405.0 L229.4,405.5 L229.4,406.0 L229.4,406.5 L229.4,407.0 L229.4,407.5 L229.4,408.0 L229.4,408.5 L229.4,409.0 L229.4,409.5 L229.4,410.0 L229.4,410.5 L229.4,411.0 L229.4,411.5 L229.4,412.0 L229.4,412.5 L229.4,413.0 L229.4,413.5 L229.4,414.0 L229.4,414.5 L229.4,415.0 L229.4,415.5 L229.4,416.0 L229.4,416.5 L229.4,417.0 L229.4,417.5 L229.4,418.0 L229.4,418.5 L229.4,419.0 L229.4,419.5 L229.4,420.0 L229.4,420.5 L229.4,421.0 L229.4,421.5 L229.4,422.0 L229.4,422.5 L229.4,423.0 L229.4,423.5 L229.4,424.0 L229.4,424.5 L229.4,425.0 L229.4,425.5 L229.4,426.0 L229.4,426.5 L229.4,427.0 L229.4,427.5 L229.4,428.0 L229.4,428.5 L229.4,429.0 L229.4,429.5 L229.4,430.0 L229.4,430.5 L229.4,431.0 L229.4,431.5 L229.4,432.0 L229.4,432.5 L229.4,433.0 L229.4,433.5 L229.4,434.0 L229.4,434.5 L229.4,435.0 L229.4,435.5 L229.4,436.0 L229.4,436.5 L229.4,437.0 L229.4,437.5 L229.4,438.0 L229.4,438.5 L229.4,439.0 L229.4,439.5 L229.4,440.0 L229.4,440.5 L229.4,441.0 L229.4,441.5 L229.4,442.0 L229.4,442.5 L229.4,443.0 L229.4,443.5 L229.4,444.0 L229.4,444.5 L229.4,445.0 L229.4,445.5 L229.4,446.0 L229.4,446.5 L229.4,447.0 L229.4,447.5 L229.4,448.0 L229.4,448.5 L229.4,449.0 L229.4,449.5 L229.4,450.0 L229.4,450.5 L229.4,451.0 L229.4,451.5 L229.4,452.0 L229.4,452.5 L229.4,453.0 L229.4,453.5 L229.4,454.0 L229.4,454.5 L229.4,455.0 L229.4,455.5 L229.4,456.0 L229.4,456.5 L229.4,457.0 L229.4,457.5 L229.4,458.0 L229.4,458.5 L229.4,459.0 L229.4,459.5 L229.4,460.0 L229.4,460.5 L229.4,461.0 L229.4,461.5 L229.4,462.0 L229.4,462.5 L229.4,463.0 L229.4,463.5 L229.4,464.0 L229.4,464.5 L229.4,465.0 L229.4,465.5 L229.4,466.0 L229.4,466.5 L229.4,467.0 L229.4,467.5 L229.4,468.0 L229.4,468.5 L229.4,469.0 L229.4,469.5 L229.4,470.0 L229.4,470.5 L229.4,471.0 L229.4,471.5 L229.4,472.0 L229.4,472.5 L229.4,473.0 L229.4,473.5 L229.4,474.0 L229.4,474.5 L229.4,475.0 L229.4,475.6 L229.4,476.1 L229.4,476.6 L229.4,477.1 L229.4,477.6 L229.4,478.1 L229.4,478.6 L229.5,479.1 L229.5,479.6 L229.5,480.1 L229.5,480.6 L229.5,481.1 L229.5,481.6 L229.5,482.1 L229.5,482.6 L229.5,483.1 L229.5,483.6 L229.5,484.1 L229.5,484.6 L229.6,485.1 L229.6,485.6 L229.6,486.1 L229.6,486.6 L229.6,487.1 L229.6,487.7 L229.6,488.2 L229.6,488.7 L229.6,489.2 L229.6,489.7 L229.6,490.2 L229.7,490.7 L229.7,491.2 L229.7,491.7 L229.7,492.2 L229.7,492.7 L229.7,493.2 L229.7,493.7 L229.7,494.2 L229.8,494.7 L229.8,495.2 L229.8,495.7 L229.8,496.2 L229.8,496.8 L229.8,497.3 L229.8,497.8 L229.9,498.3 L229.9,498.8 L229.9,499.3 L229.9,499.8 L229.9,500.3 L230.0,500.8 L230.0,501.4 L230.0,501.9 L230.0,502.4 L230.1,502.9 L230.1,503.4 L230.1,503.9 L230.2,504.5 L230.2,505.0 L230.2,505.5 L230.3,506.0 L230.3,506.6 L230.3,507.1 L230.4,507.6 L230.4,508.1 L230.4,508.6 L230.5,509.1 L230.5,509.7 L230.6,510.2 L230.6,510.7 L230.7,511.3 L230.7,511.8 L230.8,512.3 L230.9,512.9 L230.9,513.4 L231.0,514.0 L231.1,514.5 L231.1,515.1 L231.2,515.6 L231.3,516.1 L231.4,516.7 L231.5,517.2 L231.5,517.8 L231.6,518.3 L231.7,518.8 L231.8,519.3 L231.9,519.9 L232.0,520.4 L232.1,520.9 L232.2,521.4 L232.3,521.9 L232.4,522.4 L232.5,522.9 L232.6,523.4 L232.7,523.9 L232.8,524.4 L232.9,524.9 L233.0,525.4 L233.1,526.0 L233.2,526.4 L233.4,527.0 L233.5,527.5 L233.6,528.0 L233.7,528.5 L233.8,529.1 L234.0,529.6 L234.1,530.1 L234.2,530.7 L234.4,531.2 L234.5,531.7 L234.6,532.2 L234.8,532.8 L234.9,533.3 L235.1,533.9 L235.3,534.4 L235.4,534.9 L235.6,535.4 L235.8,535.9 L235.9,536.5 L236.1,537.0 L236.3,537.5 L236.5,538.0 L236.6,538.6 L236.8,539.0 L237.0,539.6 L237.2,540.1 L237.4,540.6 L237.6,541.1 L237.8,541.6 L238.0,542.1 L238.2,542.5 L238.4,543.0 L238.6,543.5 L238.7,544.0 L238.9,544.5 L239.1,545.0 L239.3,545.5 L239.6,546.0 L239.7,546.4 L240.0,546.9 L240.2,547.4 L240.4,547.9 L240.6,548.3 L240.8,548.8 L241.0,549.3 L241.2,549.8 L241.4,550.2 L241.6,550.7 L241.8,551.2 L242.1,551.7 L242.3,552.1 L242.5,552.6 L242.7,553.1 L242.9,553.5 L243.2,554.0 L243.4,554.5 L243.6,555.0 L243.8,555.4 L244.0,555.9 L244.3,556.4 L244.5,556.8 L244.7,557.3 L244.9,557.7 L245.2,558.2 L245.4,558.7 L245.6,559.1 L245.9,559.6 L246.1,560.1 L246.3,560.5 L246.6,561.0 L246.8,561.5 L247.1,561.9 L247.3,562.4 L247.5,562.8 L247.8,563.3 L248.4,563.6 L248.6,564.0 L248.9,564.5 L249.1,565.0 L249.4,565.5 L249.6,565.9 L249.9,566.4 L250.2,566.8 L250.4,567.3 L250.7,567.7 L251.0,568.2 L251.2,568.6 L251.5,569.1 L251.7,569.5 L252.0,570.0 L252.3,570.4 L252.5,570.9 L252.8,571.3 L253.1,571.7 L253.3,572.2 L253.6,572.6 L253.9,573.1 L254.1,573.5 L254.4,573.9 L254.7,574.4 L254.9,574.8 L255.2,575.2 L255.5,575.7 L255.7,576.1 L256.0,576.5 L256.3,576.9 L256.5,577.4 L256.8,577.8 L257.1,578.2 L257.3,578.6 L257.6,579.1 L257.9,579.5 L258.1,579.9 L258.4,580.3 L258.7,580.8 L258.9,581.2 L259.2,581.6 L259.5,582.0 L259.7,582.4 L260.0,582.9 L260.2,583.3 L260.5,583.7 L260.8,584.1 L261.0,584.5 L261.3,585.0 L261.5,585.4 L261.8,585.8 L262.0,586.2 L262.3,586.6 L262.5,587.0 L262.8,587.4 L263.0,587.8 L263.3,588.3 L263.5,588.7 L263.8,589.1 L264.0,589.5 L264.3,589.9 L264.5,590.4 L264.8,590.8 L265.0,591.2 L265.2,591.6 L265.5,592.1 L265.7,592.5 L266.0,592.9 L266.2,593.3 L266.5,593.8 L266.7,594.2 L267.0,594.6 L267.2,595.1 L267.4,595.5 L267.7,595.9 L267.9,596.4 L268.2,596.8 L268.4,597.2 L268.7,597.7 L268.9,598.1 L269.2,598.5 L269.4,599.0 L269.6,599.4 L269.9,599.8 L270.1,600.3 L270.4,600.7 L270.6,601.2 L270.9,601.6 L271.1,602.0 L271.4,602.5 L271.6,602.9 L271.9,603.4 L272.1,603.8 L272.4,604.2 L272.7,604.7 L272.9,605.1 L273.2,605.6 L273.4,606.0 L273.7,606.5 L274.0,606.9 L274.2,607.4 L274.5,607.8 L274.7,608.3 L275.0,608.7 L275.3,609.1 L275.6,609.6 L275.8,610.0 L276.1,610.5 L276.4,610.9 L276.7,611.4 L276.9,611.8 L277.2,612.2 L277.5,612.7 L277.8,613.1 L278.1,613.6 L278.3,614.0 L278.6,614.4 L278.9,614.9 L279.2,615.3 L279.5,615.7 L279.7,616.2 L280.0,616.6 L280.3,617.0 L280.6,617.4 L280.9,617.9 L281.2,618.3 L281.5,618.7 L281.7,619.1 L282.0,619.6 L282.3,620.0 L282.6,620.4 L282.9,620.8 L283.2,621.2 L283.5,621.6 L283.8,622.1 L284.0,622.5 L284.3,622.9 L284.6,623.3 L284.9,623.7 L285.2,624.1 L285.5,624.5 L285.8,625.0 L286.0,625.4 L286.3,625.8 L286.6,626.2 L286.9,626.6 L287.2,627.0 L287.5,627.4 L287.7,627.8 L288.0,628.2 L288.3,628.6 L288.6,629.0 L288.9,629.4 L289.1,629.8 L289.4,630.2 L289.7,630.6 L289.9,631.0 L290.2,631.4 L290.5,631.8 L290.7,632.2 L291.0,632.7 L291.3,633.1 L291.6,633.5 L291.8,633.9 L292.1,634.3 L292.4,634.7 L292.6,635.1 L292.9,635.5 L293.2,636.0 L293.4,636.4 L293.7,636.8 L294.0,637.2 L294.2,637.6 L294.5,638.0 L294.8,638.4 L295.0,638.9 L295.3,639.3 L295.6,639.7 L295.8,640.1 L296.1,640.5 L296.4,641.0" stroke="#333" stroke-width="1.5" fill="none" stroke-linejoin="round" stroke-linecap="round" />
<path d="M245.8,485.9 L229.7,492.7 M229.6,486.1 L245.9,492.3 M245.9,492.3 L230.1,503.4 M229.7,492.7 L246.3,502.6 M246.3,502.6 L231.1,514.5 M230.1,503.4 L247.1,512.4 M247.1,512.4 L233.0,525.4 M231.1,514.5 L248.9,522.1 M248.9,522.1 L235.9,536.5 M233.0,525.4 L251.3,531.4 M251.3,531.4 L238.9,544.5 M235.9,536.5 L253.9,538.3 M253.9,538.3 L242.3,552.1 M238.9,544.5 L257.0,545.4 M257.0,545.4 L245.9,559.6 M242.3,552.1 L260.3,552.3 M260.3,552.3 L250.2,566.8 M245.9,559.6 L263.6,559.2 M263.6,559.2 L254.4,573.9 M250.2,566.8 L267.5,565.8 M267.5,565.8 L256.3,576.9 M254.4,573.9 L269.3,568.8 M270.7,570.9 L259.5,582.0 M257.6,579.1 L272.5,573.9 M274.1,576.4 L262.8,587.4 M261.0,584.5 L276.0,579.5 M277.3,581.7 L265.7,592.5 M264.0,589.5 L279.1,584.8 M280.4,587.0 L267.4,595.5 M283.6,592.7 L270.4,600.7 M286.5,597.8 L273.7,606.5 M289.7,603.2 L276.9,611.8 M292.8,608.0 L280.6,617.4 M296.2,612.9 L284.0,622.5 M299.8,618.2 L287.5,627.4 M303.3,623.3 L291.0,632.7 M306.9,628.8 L294.2,637.6" stroke="#222" stroke-width="1.9" fill="none" stroke-linejoin="round" stroke-linecap="round" />
<rect x="229.6" y="385" width="9.5" height="21" fill="#8a8a8a"/>
<rect x="230" y="383" width="15.5" height="104" fill="url(#xh)"/>
<circle cx="232.3" cy="392" r="2.6" fill="#151515"/>
<rect x="231.5" y="380.5" width="5" height="4" fill="#fff" stroke="#555" stroke-width="1"/>
<path d="M252.8,373.0 L252.8,373.5 L252.8,374.0 L252.8,374.5 L252.8,375.0 L252.8,375.5 L252.8,376.0 L252.8,376.5 L252.8,377.0 L252.8,377.5 L252.8,378.0 L252.8,378.5 L252.8,379.0 L252.8,379.5 L252.8,380.0 L252.8,380.5 L252.8,381.0 L252.8,381.5 L252.8,382.0 L252.8,382.5 L252.8,383.0 L252.8,383.5 L252.8,384.0 L252.8,384.5 L252.8,385.0 L252.8,385.5 L252.8,386.0 L252.8,386.5 L252.8,387.0 L252.8,387.5 L252.8,388.0 L252.8,388.5 L252.8,389.0 L252.8,389.5 L252.8,390.0 L252.8,390.5 L252.8,391.0 L252.8,391.5 L252.8,392.0 L252.8,392.5 L252.8,393.0 L252.8,393.5 L252.8,394.0 L252.8,394.5 L252.8,395.0 L252.8,395.5 L252.8,396.0 L252.8,396.5 L252.8,397.0 L252.8,397.5 L252.8,398.0 L252.8,398.5 L252.8,399.0 L252.8,399.5 L252.8,400.0 L252.8,400.5 L252.8,401.0 L252.8,401.5 L252.8,402.0 L252.8,402.5 L252.8,403.0 L252.8,403.5 L252.8,404.0 L252.8,404.5 L252.8,405.0 L252.8,405.5 L252.8,406.0 L252.8,406.5 L252.8,407.0 L252.8,407.5 L252.8,408.0 L252.8,408.5 L252.8,409.0 L252.8,409.5 L252.8,410.0 L252.8,410.5 L252.8,411.0 L252.8,411.5 L252.8,412.0 L252.8,412.5 L252.8,413.0 L252.8,413.5 L252.8,414.0 L252.8,414.5 L252.8,415.0 L252.8,415.5 L252.8,416.0 L252.8,416.5 L252.8,417.0 L252.8,417.5 L252.8,418.0 L252.8,418.5 L252.8,419.0 L252.8,419.5 L252.8,420.0 L252.8,420.5 L252.8,421.0 L252.8,421.5 L252.8,422.0 L252.8,422.5 L252.8,423.0 L252.8,423.5 L252.8,424.0 L252.8,424.5 L252.8,425.0 L252.8,425.5 L252.8,426.0 L252.8,426.5 L252.8,427.0 L252.8,427.5 L252.8,428.0 L252.8,428.5 L252.8,429.0 L252.8,429.5 L252.8,430.0 L252.8,430.5 L252.8,431.0 L252.8,431.5 L252.8,432.0 L252.8,432.5 L252.8,433.0 L252.8,433.5 L252.8,434.0 L252.8,434.5 L252.8,435.0 L252.8,435.5 L252.8,436.0 L252.8,436.5 L252.8,437.0 L252.8,437.5 L252.8,438.0 L252.8,438.5 L252.8,439.0 L252.8,439.5 L252.8,440.0 L252.8,440.5 L252.8,441.0 L252.8,441.5 L252.8,442.0 L252.8,442.5 L252.8,443.0 L252.8,443.5 L252.8,444.0 L252.8,444.5 L252.8,445.0 L252.8,445.5 L252.8,446.0 L252.8,446.5 L252.8,447.0 L252.8,447.5 L252.8,448.0 L252.8,448.5 L252.8,449.0 L252.8,449.5 L252.8,450.0 L252.8,450.5 L252.8,451.0 L252.8,451.5 L252.8,452.0 L252.8,452.5 L252.8,453.0 L252.8,453.5 L252.8,454.0 L252.8,454.5 L252.8,455.0 L252.8,455.5 L252.8,456.0 L252.8,456.5 L252.8,457.0 L252.8,457.5 L252.8,458.0 L252.8,458.5 L252.8,459.0 L252.8,459.5 L252.8,460.0 L252.8,460.5 L252.8,461.0 L252.8,461.5 L252.8,462.0 L252.8,462.5 L252.8,463.0 L252.8,463.5 L252.8,464.0 L252.8,464.5 L252.8,465.0 L252.8,465.5 L252.8,466.0 L252.8,466.5 L252.8,467.0 L252.8,467.5 L252.8,468.0 L252.8,468.5 L252.8,469.0 L252.8,469.5 L252.8,470.0 L252.8,470.5 L252.8,471.0 L252.8,471.5 L252.8,472.0 L252.8,472.5 L252.8,473.0 L252.8,473.5 L252.8,474.0 L252.8,474.5 L252.8,475.0 L252.8,475.5 L252.8,476.0 L239.2,476.0 L239.2,475.5 L239.2,475.0 L239.2,474.5 L239.2,474.0 L239.2,473.5 L239.2,473.0 L239.2,472.5 L239.2,472.0 L239.2,471.5 L239.2,471.0 L239.2,470.5 L239.2,470.0 L239.2,469.5 L239.2,469.0 L239.2,468.5 L239.2,468.0 L239.2,467.5 L239.2,467.0 L239.2,466.5 L239.2,466.0 L239.2,465.5 L239.2,465.0 L239.2,464.5 L239.2,464.0 L239.2,463.5 L239.2,463.0 L239.2,462.5 L239.2,462.0 L239.2,461.5 L239.2,461.0 L239.2,460.5 L239.2,460.0 L239.2,459.5 L239.2,459.0 L239.2,458.5 L239.2,458.0 L239.2,457.5 L239.2,457.0 L239.2,456.5 L239.2,456.0 L239.2,455.5 L239.2,455.0 L239.2,454.5 L239.2,454.0 L239.2,453.5 L239.2,453.0 L239.2,452.5 L239.2,452.0 L239.2,451.5 L239.2,451.0 L239.2,450.5 L239.2,450.0 L239.2,449.5 L239.2,449.0 L239.2,448.5 L239.2,448.0 L239.2,447.5 L239.2,447.0 L239.2,446.5 L239.2,446.0 L239.2,445.5 L239.2,445.0 L239.2,444.5 L239.2,444.0 L239.2,443.5 L239.2,443.0 L239.2,442.5 L239.2,442.0 L239.2,441.5 L239.2,441.0 L239.2,440.5 L239.2,440.0 L239.2,439.5 L239.2,439.0 L239.2,438.5 L239.2,438.0 L239.2,437.5 L239.2,437.0 L239.2,436.5 L239.2,436.0 L239.2,435.5 L239.2,435.0 L239.2,434.5 L239.2,434.0 L239.2,433.5 L239.2,433.0 L239.2,432.5 L239.2,432.0 L239.2,431.5 L239.2,431.0 L239.2,430.5 L239.2,430.0 L239.2,429.5 L239.2,429.0 L239.2,428.5 L239.2,428.0 L239.2,427.5 L239.2,427.0 L239.2,426.5 L239.2,426.0 L239.2,425.5 L239.2,425.0 L239.2,424.5 L239.2,424.0 L239.2,423.5 L239.2,423.0 L239.2,422.5 L239.2,422.0 L239.2,421.5 L239.2,421.0 L239.2,420.5 L239.2,420.0 L239.2,419.5 L239.2,419.0 L239.2,418.5 L239.2,418.0 L239.2,417.5 L239.2,417.0 L239.2,416.5 L239.2,416.0 L239.2,415.5 L239.2,415.0 L239.2,414.5 L239.2,414.0 L239.2,413.5 L239.2,413.0 L239.2,412.5 L239.2,412.0 L239.2,411.5 L239.2,411.0 L239.2,410.5 L239.2,410.0 L239.2,409.5 L239.2,409.0 L239.2,408.5 L239.2,408.0 L239.2,407.5 L239.2,407.0 L239.2,406.5 L239.2,406.0 L239.2,405.5 L239.2,405.0 L239.2,404.5 L239.2,404.0 L239.2,403.5 L239.2,403.0 L239.2,402.5 L239.2,402.0 L239.2,401.5 L239.2,401.0 L239.2,400.5 L239.2,400.0 L239.2,399.5 L239.2,399.0 L239.2,398.5 L239.2,398.0 L239.2,397.5 L239.2,397.0 L239.2,396.5 L239.2,396.0 L239.2,395.5 L239.2,395.0 L239.2,394.5 L239.2,394.0 L239.2,393.5 L239.2,393.0 L239.2,392.5 L239.2,392.0 L239.2,391.5 L239.2,391.0 L239.2,390.5 L239.2,390.0 L239.2,389.5 L239.2,389.0 L239.2,388.5 L239.2,388.0 L239.2,387.5 L239.2,387.0 L239.2,386.5 L239.2,386.0 L239.2,385.5 L239.2,385.0 L239.2,384.5 L239.2,384.0 L239.2,383.5 L239.2,383.0 L239.2,382.5 L239.2,382.0 L239.2,381.5 L239.2,381.0 L239.2,380.5 L239.2,380.0 L239.2,379.5 L239.2,379.0 L239.2,378.5 L239.2,378.0 L239.2,377.5 L239.2,377.0 L239.2,376.5 L239.2,376.0 L239.2,375.5 L239.2,375.0 L239.2,374.5 L239.2,374.0 L239.2,373.5 L239.2,373.0 Z" fill="#fff" stroke="none"/>
<path d="M252.8,373.0 L252.8,373.5 L252.8,374.0 L252.8,374.5 L252.8,375.0 L252.8,375.5 L252.8,376.0 L252.8,376.5 L252.8,377.0 L252.8,377.5 L252.8,378.0 L252.8,378.5 L252.8,379.0 L252.8,379.5 L252.8,380.0 L252.8,380.5 L252.8,381.0 L252.8,381.5 L252.8,382.0 L252.8,382.5 L252.8,383.0 L252.8,383.5 L252.8,384.0 L252.8,384.5 L252.8,385.0 L252.8,385.5 L252.8,386.0 L252.8,386.5 L252.8,387.0 L252.8,387.5 L252.8,388.0 L252.8,388.5 L252.8,389.0 L252.8,389.5 L252.8,390.0 L252.8,390.5 L252.8,391.0 L252.8,391.5 L252.8,392.0 L252.8,392.5 L252.8,393.0 L252.8,393.5 L252.8,394.0 L252.8,394.5 L252.8,395.0 L252.8,395.5 L252.8,396.0 L252.8,396.5 L252.8,397.0 L252.8,397.5 L252.8,398.0 L252.8,398.5 L252.8,399.0 L252.8,399.5 L252.8,400.0 L252.8,400.5 L252.8,401.0 L252.8,401.5 L252.8,402.0 L252.8,402.5 L252.8,403.0 L252.8,403.5 L252.8,404.0 L252.8,404.5 L252.8,405.0 L252.8,405.5 L252.8,406.0 L252.8,406.5 L252.8,407.0 L252.8,407.5 L252.8,408.0 L252.8,408.5 L252.8,409.0 L252.8,409.5 L252.8,410.0 L252.8,410.5 L252.8,411.0 L252.8,411.5 L252.8,412.0 L252.8,412.5 L252.8,413.0 L252.8,413.5 L252.8,414.0 L252.8,414.5 L252.8,415.0 L252.8,415.5 L252.8,416.0 L252.8,416.5 L252.8,417.0 L252.8,417.5 L252.8,418.0 L252.8,418.5 L252.8,419.0 L252.8,419.5 L252.8,420.0 L252.8,420.5 L252.8,421.0 L252.8,421.5 L252.8,422.0 L252.8,422.5 L252.8,423.0 L252.8,423.5 L252.8,424.0 L252.8,424.5 L252.8,425.0 L252.8,425.5 L252.8,426.0 L252.8,426.5 L252.8,427.0 L252.8,427.5 L252.8,428.0 L252.8,428.5 L252.8,429.0 L252.8,429.5 L252.8,430.0 L252.8,430.5 L252.8,431.0 L252.8,431.5 L252.8,432.0 L252.8,432.5 L252.8,433.0 L252.8,433.5 L252.8,434.0 L252.8,434.5 L252.8,435.0 L252.8,435.5 L252.8,436.0 L252.8,436.5 L252.8,437.0 L252.8,437.5 L252.8,438.0 L252.8,438.5 L252.8,439.0 L252.8,439.5 L252.8,440.0 L252.8,440.5 L252.8,441.0 L252.8,441.5 L252.8,442.0 L252.8,442.5 L252.8,443.0 L252.8,443.5 L252.8,444.0 L252.8,444.5 L252.8,445.0 L252.8,445.5 L252.8,446.0 L252.8,446.5 L252.8,447.0 L252.8,447.5 L252.8,448.0 L252.8,448.5 L252.8,449.0 L252.8,449.5 L252.8,450.0 L252.8,450.5 L252.8,451.0 L252.8,451.5 L252.8,452.0 L252.8,452.5 L252.8,453.0 L252.8,453.5 L252.8,454.0 L252.8,454.5 L252.8,455.0 L252.8,455.5 L252.8,456.0 L252.8,456.5 L252.8,457.0 L252.8,457.5 L252.8,458.0 L252.8,458.5 L252.8,459.0 L252.8,459.5 L252.8,460.0 L252.8,460.5 L252.8,461.0 L252.8,461.5 L252.8,462.0 L252.8,462.5 L252.8,463.0 L252.8,463.5 L252.8,464.0 L252.8,464.5 L252.8,465.0 L252.8,465.5 L252.8,466.0 L252.8,466.5 L252.8,467.0 L252.8,467.5 L252.8,468.0 L252.8,468.5 L252.8,469.0 L252.8,469.5 L252.8,470.0 L252.8,470.5 L252.8,471.0 L252.8,471.5 L252.8,472.0 L252.8,472.5 L252.8,473.0 L252.8,473.5 L252.8,474.0 L252.8,474.5 L252.8,475.0 L252.8,475.5 L252.8,476.0" stroke="#333" stroke-width="1.5" fill="none" stroke-linejoin="round" stroke-linecap="round" />
<path d="M239.2,373.0 L239.2,373.5 L239.2,374.0 L239.2,374.5 L239.2,375.0 L239.2,375.5 L239.2,376.0 L239.2,376.5 L239.2,377.0 L239.2,377.5 L239.2,378.0 L239.2,378.5 L239.2,379.0 L239.2,379.5 L239.2,380.0 L239.2,380.5 L239.2,381.0 L239.2,381.5 L239.2,382.0 L239.2,382.5 L239.2,383.0 L239.2,383.5 L239.2,384.0 L239.2,384.5 L239.2,385.0 L239.2,385.5 L239.2,386.0 L239.2,386.5 L239.2,387.0 L239.2,387.5 L239.2,388.0 L239.2,388.5 L239.2,389.0 L239.2,389.5 L239.2,390.0 L239.2,390.5 L239.2,391.0 L239.2,391.5 L239.2,392.0 L239.2,392.5 L239.2,393.0 L239.2,393.5 L239.2,394.0 L239.2,394.5 L239.2,395.0 L239.2,395.5 L239.2,396.0 L239.2,396.5 L239.2,397.0 L239.2,397.5 L239.2,398.0 L239.2,398.5 L239.2,399.0 L239.2,399.5 L239.2,400.0 L239.2,400.5 L239.2,401.0 L239.2,401.5 L239.2,402.0 L239.2,402.5 L239.2,403.0 L239.2,403.5 L239.2,404.0 L239.2,404.5 L239.2,405.0 L239.2,405.5 L239.2,406.0 L239.2,406.5 L239.2,407.0 L239.2,407.5 L239.2,408.0 L239.2,408.5 L239.2,409.0 L239.2,409.5 L239.2,410.0 L239.2,410.5 L239.2,411.0 L239.2,411.5 L239.2,412.0 L239.2,412.5 L239.2,413.0 L239.2,413.5 L239.2,414.0 L239.2,414.5 L239.2,415.0 L239.2,415.5 L239.2,416.0 L239.2,416.5 L239.2,417.0 L239.2,417.5 L239.2,418.0 L239.2,418.5 L239.2,419.0 L239.2,419.5 L239.2,420.0 L239.2,420.5 L239.2,421.0 L239.2,421.5 L239.2,422.0 L239.2,422.5 L239.2,423.0 L239.2,423.5 L239.2,424.0 L239.2,424.5 L239.2,425.0 L239.2,425.5 L239.2,426.0 L239.2,426.5 L239.2,427.0 L239.2,427.5 L239.2,428.0 L239.2,428.5 L239.2,429.0 L239.2,429.5 L239.2,430.0 L239.2,430.5 L239.2,431.0 L239.2,431.5 L239.2,432.0 L239.2,432.5 L239.2,433.0 L239.2,433.5 L239.2,434.0 L239.2,434.5 L239.2,435.0 L239.2,435.5 L239.2,436.0 L239.2,436.5 L239.2,437.0 L239.2,437.5 L239.2,438.0 L239.2,438.5 L239.2,439.0 L239.2,439.5 L239.2,440.0 L239.2,440.5 L239.2,441.0 L239.2,441.5 L239.2,442.0 L239.2,442.5 L239.2,443.0 L239.2,443.5 L239.2,444.0 L239.2,444.5 L239.2,445.0 L239.2,445.5 L239.2,446.0 L239.2,446.5 L239.2,447.0 L239.2,447.5 L239.2,448.0 L239.2,448.5 L239.2,449.0 L239.2,449.5 L239.2,450.0 L239.2,450.5 L239.2,451.0 L239.2,451.5 L239.2,452.0 L239.2,452.5 L239.2,453.0 L239.2,453.5 L239.2,454.0 L239.2,454.5 L239.2,455.0 L239.2,455.5 L239.2,456.0 L239.2,456.5 L239.2,457.0 L239.2,457.5 L239.2,458.0 L239.2,458.5 L239.2,459.0 L239.2,459.5 L239.2,460.0 L239.2,460.5 L239.2,461.0 L239.2,461.5 L239.2,462.0 L239.2,462.5 L239.2,463.0 L239.2,463.5 L239.2,464.0 L239.2,464.5 L239.2,465.0 L239.2,465.5 L239.2,466.0 L239.2,466.5 L239.2,467.0 L239.2,467.5 L239.2,468.0 L239.2,468.5 L239.2,469.0 L239.2,469.5 L239.2,470.0 L239.2,470.5 L239.2,471.0 L239.2,471.5 L239.2,472.0 L239.2,472.5 L239.2,473.0 L239.2,473.5 L239.2,474.0 L239.2,474.5 L239.2,475.0 L239.2,475.5 L239.2,476.0" stroke="#333" stroke-width="1.5" fill="none" stroke-linejoin="round" stroke-linecap="round" />
<path d="M252.8,373.0 L239.2,379.5 M239.2,373.0 L252.8,379.5 M252.8,379.5 L239.2,386.0 M239.2,379.5 L252.8,386.0 M252.8,386.0 L239.2,392.5 M239.2,386.0 L252.8,392.5 M252.8,392.5 L239.2,399.0 M239.2,392.5 L252.8,399.0 M252.8,399.0 L239.2,405.5 M239.2,399.0 L252.8,405.5 M252.8,405.5 L239.2,412.0 M239.2,405.5 L252.8,412.0 M252.8,412.0 L239.2,418.5 M239.2,412.0 L252.8,418.5 M252.8,418.5 L239.2,425.0 M239.2,418.5 L252.8,425.0 M252.8,425.0 L239.2,431.5 M239.2,425.0 L252.8,431.5 M252.8,431.5 L239.2,438.0 M239.2,431.5 L252.8,438.0 M252.8,438.0 L239.2,444.5 M239.2,438.0 L252.8,444.5 M252.8,444.5 L239.2,451.0 M239.2,444.5 L252.8,451.0 M252.8,451.0 L239.2,457.5 M239.2,451.0 L252.8,457.5 M252.8,457.5 L239.2,464.0 M239.2,457.5 L252.8,464.0 M252.8,464.0 L239.2,470.5 M239.2,464.0 L252.8,470.5" stroke="#222" stroke-width="0" fill="none" stroke-linejoin="round" stroke-linecap="round" />
<rect x="239.6" y="373" width="12.8" height="103" fill="url(#xh)"/>
<polygon points="257.3,487.7 250.5,494.6 240.9,494.7 234.0,487.9 233.9,478.3 240.7,471.4 250.3,471.3 257.2,478.1" fill="#0d0d0d"/>
<circle cx="245.6" cy="483" r="8.6" fill="#fff"/>
<circle cx="245.6" cy="483" r="4.4" fill="#fff" stroke="#111" stroke-width="1.8"/>
<path d="M258.4,490 Q263,494.5 272,495.2" stroke="#777" stroke-width="1.2" fill="none" stroke-linejoin="round" stroke-linecap="round" />
<g transform="translate(317,660.5) rotate(59)">
<rect x="-28" y="-8.5" width="4" height="17" fill="#bbb" stroke="#444" stroke-width="1.3" rx="1"/>
<rect x="-24" y="-7.5" width="12" height="15" fill="#1a1a1a" stroke="#111" stroke-width="1.3" rx="0"/>
<rect x="-21" y="-3.5" width="5" height="3" fill="#ccc"/>
<rect x="-21" y="1.5" width="5" height="3" fill="#999"/>
<rect x="-12" y="-9" width="3" height="18" fill="#aaa" stroke="#333" stroke-width="1.3" rx="1"/>
<rect x="-9" y="-10.5" width="2.8" height="21" fill="#1a1a1a" stroke="#111" stroke-width="1.3" rx="0"/>
<rect x="-6.5" y="-11.2" width="13" height="22.4" fill="#fff" stroke="#333" stroke-width="1.3" rx="2"/>
<line x1="-5.5" y1="-8" x2="5.5" y2="-8" stroke="#444" stroke-width="1.2"/>
<line x1="-5.5" y1="-5.5" x2="5.5" y2="-5.5" stroke="#444" stroke-width="1.2"/>
<line x1="-5.5" y1="-3" x2="5.5" y2="-3" stroke="#444" stroke-width="1.2"/>
<line x1="-5.5" y1="3.5" x2="5.5" y2="3.5" stroke="#444" stroke-width="1.2"/>
<line x1="-5.5" y1="6" x2="5.5" y2="6" stroke="#444" stroke-width="1.2"/>
<line x1="-5.5" y1="8.5" x2="5.5" y2="8.5" stroke="#444" stroke-width="1.2"/>
<rect x="6.5" y="-10.5" width="2.2" height="21" fill="#1a1a1a" stroke="#111" stroke-width="1.3" rx="0"/>
<rect x="8.8" y="-9.5" width="4.7" height="19" fill="#fff" stroke="#333" stroke-width="1.3" rx="1.5"/>
<rect x="13.5" y="-7" width="3.5" height="14" fill="#fff" stroke="#333" stroke-width="1.3" rx="0"/>
<rect x="17" y="-8.5" width="4" height="17" fill="#fff" stroke="#333" stroke-width="1.3" rx="1"/>
<rect x="21" y="-8.9" width="18" height="17.8" fill="#fff" stroke="#2a2a2a" stroke-width="1.6" rx="1.5"/>
</g>
<g transform="translate(337.6,693.4) rotate(59.8)">
<rect x="0" y="-9.2" width="60.5" height="18.4" fill="#fff" stroke="#1c1c1c" stroke-width="1.9" rx="0"/>
<rect x="0.30" y="-9.2" width="2.7" height="18.4" fill="#1a1a1a"/>
<rect x="5.75" y="-9.2" width="2.7" height="18.4" fill="#1a1a1a"/>
<rect x="11.20" y="-9.2" width="2.7" height="18.4" fill="#1a1a1a"/>
<rect x="16.65" y="-9.2" width="2.7" height="18.4" fill="#1a1a1a"/>
<rect x="22.10" y="-9.2" width="2.7" height="18.4" fill="#1a1a1a"/>
<rect x="27.55" y="-9.2" width="2.7" height="18.4" fill="#1a1a1a"/>
<rect x="33.00" y="-9.2" width="2.7" height="18.4" fill="#1a1a1a"/>
<rect x="38.45" y="-9.2" width="2.7" height="18.4" fill="#1a1a1a"/>
<rect x="43.90" y="-9.2" width="2.7" height="18.4" fill="#1a1a1a"/>
<rect x="49.35" y="-9.2" width="2.7" height="18.4" fill="#1a1a1a"/>
<rect x="54.80" y="-9.2" width="2.7" height="18.4" fill="#1a1a1a"/>
</g>
<path d="M279,687 L284,687 Q286.5,687 288.5,685.5 L308.5,672.7" stroke="#666" stroke-width="1.2" fill="none" stroke-linejoin="round" stroke-linecap="round" />
</svg>
</body></html>
